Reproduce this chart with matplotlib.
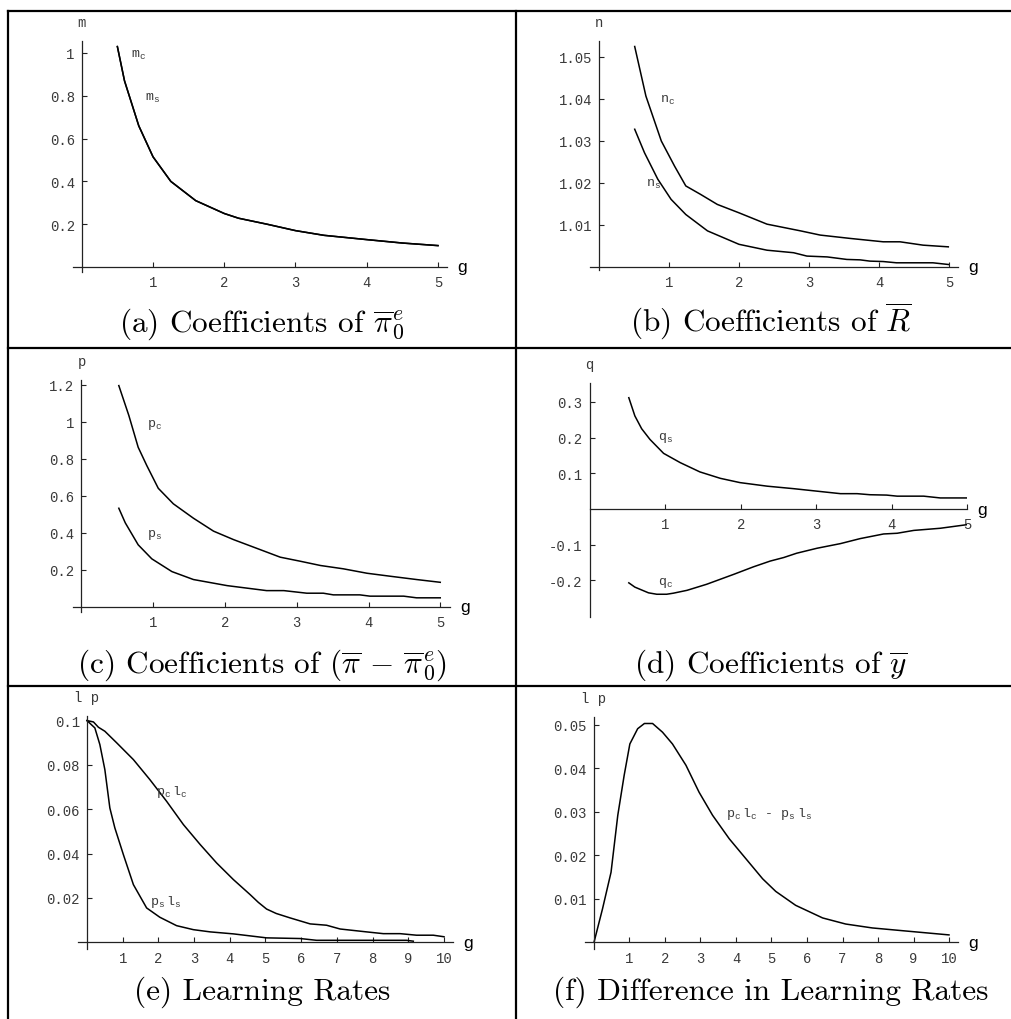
import matplotlib
matplotlib.use('Agg')
import matplotlib.pyplot as plt
from matplotlib.lines import Line2D

plt.rcParams['mathtext.fontset'] = 'custom'
plt.rcParams['mathtext.rm'] = 'Liberation Mono'
plt.rcParams['mathtext.it'] = 'Liberation Mono'

# ---- data ----
# (a) coefficients of pi_0^e
g_a = [0.5, 0.6, 0.8, 1.0, 1.25, 1.6, 2.0, 2.2, 2.6, 3.0, 3.4, 4.0, 4.5, 5.0]
m_c = [1.03, 0.87, 0.66, 0.515, 0.40, 0.31, 0.25, 0.228, 0.20, 0.17, 0.148, 0.128, 0.112, 0.10]
m_s = [1.03, 0.87, 0.66, 0.515, 0.40, 0.31, 0.25, 0.228, 0.20, 0.17, 0.148, 0.128, 0.112, 0.10]

# (b) coefficients of R
g_nc = [0.51, 0.67, 0.89, 1.08, 1.24, 1.45, 1.69, 2.0, 2.4, 2.88, 3.16, 3.59, 4.06, 4.3, 4.63, 4.99]
n_c = [1.0525, 1.0407, 1.0300, 1.0240, 1.0193, 1.0173, 1.0149, 1.0129, 1.0102, 1.0086,
       1.0076, 1.0068, 1.0060, 1.0060, 1.0052, 1.0048]
g_ns = [0.51, 0.65, 0.84, 1.03, 1.24, 1.55, 2.0, 2.4, 2.78, 2.97, 3.26, 3.54, 3.73, 3.87,
        4.06, 4.25, 4.77, 4.99]
n_s = [1.0328, 1.0272, 1.0209, 1.0161, 1.0125, 1.0086, 1.0054, 1.0040, 1.0034, 1.0026,
       1.0024, 1.0018, 1.0017, 1.0014, 1.0013, 1.0010, 1.0010, 1.0006]

# (c) coefficients of (pi - pi_0^e)
g_pc = [0.52, 0.66, 0.79, 0.91, 1.07, 1.28, 1.56, 1.84, 2.12, 2.49, 2.77, 3.05, 3.33, 3.65,
        3.98, 4.30, 4.67, 5.0]
p_c = [1.196, 1.034, 0.862, 0.763, 0.640, 0.556, 0.478, 0.408, 0.362, 0.308, 0.267, 0.245,
       0.222, 0.204, 0.180, 0.164, 0.146, 0.131]
g_ps = [0.52, 0.61, 0.79, 0.98, 1.26, 1.56, 2.03, 2.58, 2.82, 3.14, 3.37, 3.51, 3.88, 4.02,
        4.49, 4.67, 5.0]
p_s = [0.532, 0.453, 0.334, 0.258, 0.189, 0.146, 0.113, 0.086, 0.086, 0.072, 0.072, 0.063,
       0.063, 0.056, 0.056, 0.047, 0.047]

# (d) coefficients of y
g_qs = [0.52, 0.60, 0.69, 0.80, 0.98, 1.20, 1.46, 1.73, 1.99, 2.35, 2.70, 3.01, 3.32, 3.54,
        3.71, 3.93, 4.07, 4.42, 4.64, 4.99]
q_s = [0.312, 0.261, 0.225, 0.195, 0.156, 0.130, 0.104, 0.086, 0.074, 0.064, 0.057, 0.050,
       0.043, 0.043, 0.040, 0.039, 0.036, 0.036, 0.031, 0.031]
g_qc = [0.52, 0.60, 0.78, 0.89, 1.02, 1.11, 1.29, 1.55, 1.91, 2.17, 2.39, 2.57, 2.74, 3.01,
        3.32, 3.58, 3.89, 4.07, 4.29, 4.64, 4.99]
q_c = [-0.207, -0.219, -0.235, -0.239, -0.239, -0.236, -0.228, -0.211, -0.183, -0.162,
       -0.146, -0.136, -0.124, -0.110, -0.097, -0.083, -0.070, -0.068, -0.060, -0.054, -0.044]

# (e) learning rates
g_lc = [0, 0.18, 0.32, 0.50, 0.83, 1.30, 1.76, 2.23, 2.70, 3.17, 3.63, 4.10, 4.57, 4.80,
        5.03, 5.30, 5.69, 6.25, 6.71, 7.09, 7.83, 8.30, 8.77, 9.23, 9.70, 10.0]
pl_c = [0.1, 0.0994, 0.097, 0.0952, 0.090, 0.0824, 0.0734, 0.0636, 0.0531, 0.0441, 0.0358,
        0.0283, 0.0215, 0.0180, 0.0150, 0.0130, 0.0110, 0.0083, 0.0077, 0.0060, 0.0047,
        0.0039, 0.0039, 0.0032, 0.0032, 0.0025]
g_ls = [0, 0.22, 0.36, 0.50, 0.64, 0.78, 1.02, 1.30, 1.67, 2.04, 2.51, 2.98, 3.45, 4.10,
        5.03, 5.97, 6.43, 7.83, 8.95, 9.14]
pl_s = [0.1, 0.0967, 0.0892, 0.0779, 0.0606, 0.0516, 0.0395, 0.0260, 0.0155, 0.0113, 0.0075,
        0.0057, 0.0047, 0.0038, 0.0020, 0.0017, 0.0009, 0.0009, 0.0009, 0.0005]

# (f) difference in learning rates
g_d = [0, 0.24, 0.48, 0.67, 0.85, 1.01, 1.23, 1.42, 1.65, 1.93, 2.21, 2.59, 2.96, 3.34,
       3.81, 4.28, 4.75, 5.12, 5.68, 6.44, 7.09, 7.84, 8.78, 10.0]
pl_diff = [0, 0.0077, 0.0161, 0.0292, 0.0384, 0.0456, 0.0491, 0.0503, 0.0503, 0.0483, 0.0456,
           0.0407, 0.0345, 0.0292, 0.0238, 0.0192, 0.0146, 0.0117, 0.0085, 0.0056, 0.0042,
           0.0033, 0.0026, 0.0017]

ticks5 = [1, 2, 3, 4, 5]
ticks10 = [1, 2, 3, 4, 5, 6, 7, 8, 9, 10]
yt_a = [0.2, 0.4, 0.6, 0.8, 1.0]
yl_a = ['0.2', '0.4', '0.6', '0.8', '1']
yt_b = [1.01, 1.02, 1.03, 1.04, 1.05]
yl_b = ['1.01', '1.02', '1.03', '1.04', '1.05']
yt_c = [0.2, 0.4, 0.6, 0.8, 1.0, 1.2]
yl_c = ['0.2', '0.4', '0.6', '0.8', '1', '1.2']
yt_d = [-0.2, -0.1, 0.1, 0.2, 0.3]
yl_d = ['-0.2', '-0.1', '0.1', '0.2', '0.3']
yt_e = [0.02, 0.04, 0.06, 0.08, 0.1]
yl_e = ['0.02', '0.04', '0.06', '0.08', '0.1']
yt_f = [0.01, 0.02, 0.03, 0.04, 0.05]
yl_f = ['0.01', '0.02', '0.03', '0.04', '0.05']

captions = [r'(a) Coefficients of $\overline{\pi}^{e}_{0}$',
            r'(b) Coefficients of $\overline{R}$',
            r'(c) Coefficients of $(\overline{\pi}\,-\,\overline{\pi}^{e}_{0})$',
            r'(d) Coefficients of $\overline{y}$',
            '(e) Learning Rates',
            '(f) Difference in Learning Rates']

W, H = 1012, 1020
fig = plt.figure(figsize=(W / 100, H / 100), dpi=100)
MONO = 'Liberation Mono'
GRAY = '#3a3a3a'


def panel(ox, oy, sx, sy, xr, yr, ybase, ylab, xt, yt, yl):
    left = ox + xr[0] * sx
    right = ox + xr[1] * sx
    top = oy - (yr[1] - ybase) * sy
    bot = oy - (yr[0] - ybase) * sy
    ax = fig.add_axes([left / W, 1 - bot / H, (right - left) / W, (bot - top) / H])
    ax.set_xlim(xr)
    ax.set_ylim(yr)
    ax.patch.set_visible(False)
    for s in ['top', 'right']:
        ax.spines[s].set_visible(False)
    ax.spines['left'].set_position(('data', 0))
    ax.spines['bottom'].set_position(('data', ybase))
    for s in ['left', 'bottom']:
        ax.spines[s].set_color('#222222')
        ax.spines[s].set_linewidth(0.9)
    ax.set_xticks(xt, [str(t) for t in xt])
    ax.set_yticks(yt, yl)
    ax.tick_params(axis='both', direction='in', length=3.5, width=0.8, color='#222222',
                   labelsize=10, labelcolor=GRAY, labelfontfamily=MONO)
    ax.tick_params(axis='x', pad=6)
    ax.tick_params(axis='y', pad=5)
    ax.annotate(ylab, xy=(0, 1), xycoords=('data', 'axes fraction'), xytext=(0, 19),
                textcoords='offset pixels', ha='center', va='center',
                fontsize=10, color=GRAY, fontfamily=MONO)
    ax.annotate('g', xy=(1, ybase), xycoords=('axes fraction', 'data'), xytext=(15, 0),
                textcoords='offset pixels', ha='center', va='center',
                fontsize=12.5, color='black', fontfamily='Liberation Sans')
    return ax


def curve_label(ax, x, y, s):
    ax.text(x, y, s, ha='left', va='center', fontsize=9.5, color=GRAY, fontfamily=MONO)


kw = dict(color='black', lw=1.1)

ax = panel(81.75, 268, 71.25, 214, (-0.12, 5.13), (-0.023, 1.056), 0, 'm', ticks5, yt_a, yl_a)
ax.plot(g_a, m_c, **kw)
ax.plot(g_a, m_s, **kw)
curve_label(ax, 0.69, 0.995, r'$\mathrm{m_c}$')
curve_label(ax, 0.89, 0.794, r'$\mathrm{m_s}$')

ax = panel(599, 268, 70, 4200, (-0.13, 5.13), (0.9993, 1.0538), 1.0, 'n', ticks5, yt_b, yl_b)
ax.plot(g_nc, n_c, **kw)
ax.plot(g_ns, n_s, **kw)
curve_label(ax, 0.87, 1.040, r'$\mathrm{n_c}$')
curve_label(ax, 0.67, 1.0198, r'$\mathrm{n_s}$')

ax = panel(81.5, 607.5, 71.75, 184.7, (-0.12, 5.14), (-0.03, 1.227), 0, 'p', ticks5, yt_c, yl_c)
ax.plot(g_pc, p_c, **kw)
ax.plot(g_ps, p_s, **kw)
curve_label(ax, 0.91, 0.988, r'$\mathrm{p_c}$')
curve_label(ax, 0.91, 0.392, r'$\mathrm{p_s}$')

ax = panel(589.5, 510, 75.6, 356.7, (0, 5.0), (-0.303, 0.353), 0, 'q', ticks5, yt_d, yl_d)
ax.plot(g_qs, q_s, **kw)
ax.plot(g_qc, q_c, **kw)
curve_label(ax, 0.90, 0.201, r'$\mathrm{q_s}$')
curve_label(ax, 0.90, -0.206, r'$\mathrm{q_c}$')

ax = panel(87, 943.3, 35.7, 2217, (-0.25, 10.25), (-0.003, 0.1021), 0, 'l p', ticks10, yt_e, yl_e)
ax.plot(g_lc, pl_c, **kw)
ax.plot(g_ls, pl_s, **kw)
curve_label(ax, 1.92, 0.0684, r'$\mathrm{p_c\ l_c}$')
curve_label(ax, 1.76, 0.0188, r'$\mathrm{p_s\ l_s}$')

ax = panel(594, 943.3, 35.5, 4350, (-0.25, 10.25), (-0.0015, 0.0518), 0, 'l p', ticks10, yt_f, yl_f)
ax.plot(g_d, pl_diff, **kw)
curve_label(ax, 3.72, 0.0297, r'$\mathrm{p_c\ l_c}$ - $\mathrm{p_s\ l_s}$')

# captions
cap_pos = [(262, 332), (771, 332), (262, 673), (771, 673), (262, 1000), (771, 1000)]
for (cx, cy), s in zip(cap_pos, captions):
    fig.text(cx / W, 1 - cy / H, s, ha='center', va='baseline', fontsize=22.5,
             fontfamily='cmr10', math_fontfamily='cm')

# table rules
def rule(x0, y0, x1, y1):
    fig.add_artist(Line2D([x0 / W, x1 / W], [1 - y0 / H, 1 - y1 / H],
                          transform=fig.transFigure, color='black', lw=1.6))

rule(8, 12, 1012, 12)
rule(8, 12, 8, 1020)
rule(516, 12, 516, 1020)
rule(8, 349, 1012, 349)
rule(8, 687, 1012, 687)

fig.savefig('out.png', dpi=100)
